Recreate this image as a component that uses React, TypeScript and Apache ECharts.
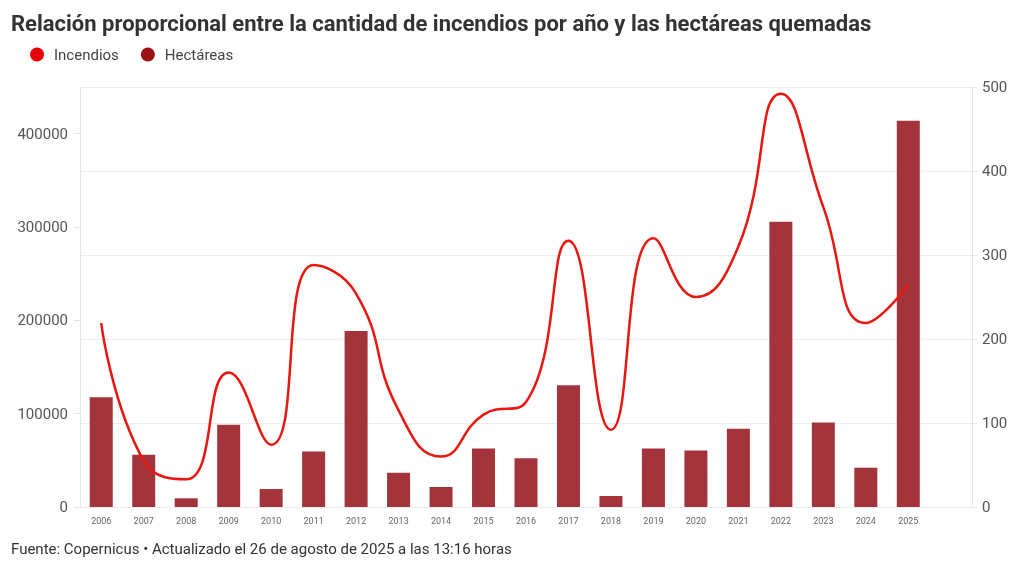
import React, { useEffect, useRef } from "react";
import * as echarts from "echarts";

const years = ["2006","2007","2008","2009","2010","2011","2012","2013","2014","2015","2016","2017","2018","2019","2020","2021","2022","2023","2024","2025",""];
const hectareas = [117600,56000,9300,88000,19300,59500,188600,36700,21400,62800,52100,130500,11800,62800,60600,83800,305500,90600,42100,413900];
const incendios = [219,55,33,160,74,288,254,115,60,110,125,317,92,320,250,310,492,357,219,264];
const leftTicks = { min: 0, max: 450000, interval: 100000 };
const rightTicks = { min: 0, max: 500, interval: 100 };

const FONT = "Roboto";

export default function App() {
  const ref = useRef<HTMLDivElement>(null);
  useEffect(() => {
    if (!ref.current) return;
    const chart = echarts.init(ref.current, null, { renderer: "svg" });
    chart.setOption({
      animation: false,
      textStyle: { fontFamily: FONT },
      title: {
        text: "Relación proporcional entre la cantidad de incendios por año y las hectáreas quemadas",
        left: 6,
        top: 7,
        textStyle: { fontFamily: FONT, fontSize: 22, fontWeight: "bold", color: "#333" },
      },
      legend: {
        left: 25,
        top: 42,
        icon: "circle",
        itemWidth: 14,
        itemHeight: 14,
        itemGap: 22,
        textStyle: { fontFamily: FONT, fontSize: 15, color: "#444", padding: [0, 0, 0, 5] },
        data: [
          { name: "Incendios", itemStyle: { color: "#e8000b" } },
          { name: "Hectáreas", itemStyle: { color: "#9b1116" } },
        ],
      },
      grid: { left: 80, right: 48, top: 87, bottom: 62, containLabel: false },
      xAxis: {
        type: "category",
        data: years,
        axisLine: { show: true, lineStyle: { color: "#ececec" } },
        axisTick: { show: false },
        axisLabel: { fontSize: 9, color: "#666", margin: 9, interval: 0 },
      },
      yAxis: [
        {
          type: "value",
          ...leftTicks,
          position: "left",
          axisLine: { show: true, lineStyle: { color: "#e6e6e6" } },
          axisTick: { show: true, length: 6, lineStyle: { color: "#e6e6e6" } },
          splitLine: { show: false },
          axisLabel: {
            fontSize: 15,
            color: "#555",
            margin: 12,
            showMaxLabel: false,
            formatter: (v: number) => String(v),
          },
        },
        {
          type: "value",
          ...rightTicks,
          position: "right",
          axisLine: { show: true, lineStyle: { color: "#e6e6e6" } },
          axisTick: { show: true, length: 5, lineStyle: { color: "#e6e6e6" } },
          splitLine: { show: true, lineStyle: { color: "#eeeeee" } },
          axisLabel: { fontSize: 15, color: "#555", margin: 10 },
        },
      ],
      series: [
        {
          name: "Hectáreas",
          type: "bar",
          yAxisIndex: 0,
          data: hectareas,
          barWidth: 23,
          itemStyle: { color: "#a3343c" },
          z: 2,
        },
        {
          name: "Incendios",
          type: "line",
          yAxisIndex: 1,
          data: incendios,
          smooth: true,
          symbol: "none",
          lineStyle: { color: "#e8170f", width: 2.5 },
          itemStyle: { color: "#e8000b" },
          z: 3,
        },
      ],
      graphic: [
        {
          type: "text",
          left: 11,
          top: 541,
          style: {
            text: "Fuente: Copernicus • Actualizado el 26 de agosto de 2025 a las 13:16 horas",
            fontFamily: FONT,
            fontSize: 15,
            fill: "#333",
          },
        },
      ],
    });
    return () => chart.dispose();
  }, []);
  return <div ref={ref} style={{ position: "fixed", left: 0, top: 0, width: 1020, height: 569 }} />;
}
